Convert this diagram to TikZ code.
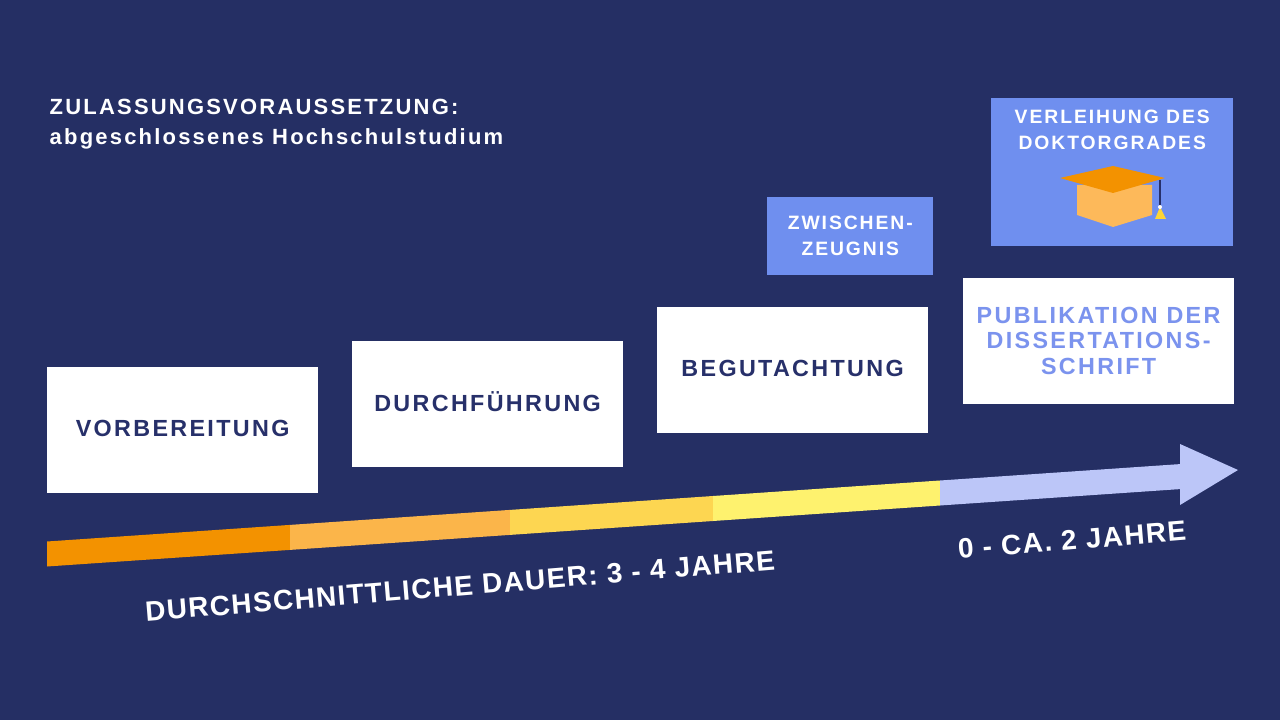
\documentclass[tikz,border=0pt]{standalone}
\usepackage{fontspec}
\setmainfont{Liberation Sans}
\newfontfamily\spaced[LetterSpace=10]{Liberation Sans}
\newfontfamily\narrowsp[LetterSpace=5]{Liberation Sans}
\definecolor{bgnavy}{HTML}{252F64}
\definecolor{boxtext}{HTML}{27306A}
\definecolor{lightblue}{HTML}{6F8FEF}
\definecolor{pubtext}{HTML}{7B93EE}
\definecolor{arrowblue}{HTML}{BCC6F8}
\definecolor{segA}{HTML}{F39200}
\definecolor{segB}{HTML}{FBB54A}
\definecolor{segC}{HTML}{FDD651}
\definecolor{segD}{HTML}{FEF26E}
\definecolor{hatdark}{HTML}{F39200}
\definecolor{hatlight}{HTML}{FDB95A}
\tikzset{
  phase/.style={fill=white,anchor=north west,inner sep=0pt,align=center,
    minimum width=203pt,minimum height=94pt,text=boxtext,
    font=\spaced\bfseries\fontsize{17.5}{19}\selectfont},
  milestone/.style={fill=lightblue,anchor=north west,inner sep=0pt,align=center,
    text=white,font=\spaced\bfseries\fontsize{14.5}{20}\selectfont},
  duration/.style={text=white,font=\narrowsp\bfseries\fontsize{21}{24}\selectfont}
}
\begin{document}
\begin{tikzpicture}[x=0.75pt,y=-0.75pt]
\fill[bgnavy] (0,0) rectangle (1280,720);
\useasboundingbox (0,0) rectangle (1280,720);
% timeline
\fill[segA] (47,541.5) -- (290,524.9) -- (290,549.9) -- (47,566.5) -- cycle;
\fill[segB] (290,524.9) -- (510,509.9) -- (510,534.9) -- (290,549.9) -- cycle;
\fill[segC] (510,509.9) -- (713,496.0) -- (713,521.0) -- (510,534.9) -- cycle;
\fill[segD] (713,496.0) -- (940,480.5) -- (940,505.5) -- (713,521.0) -- cycle;
\fill[arrowblue] (940,480.5) -- (1180,464.1) -- (1180,444) -- (1238,470)
  -- (1180,505) -- (1180,489.1) -- (940,505.5) -- cycle;
% header
\node[anchor=west,text=white,align=left,font=\spaced\bfseries\fontsize{16.5}{22.5}\selectfont] (prereq)
  at (45,124) {ZULASSUNGSVORAUSSETZUNG:\\abgeschlossenes Hochschulstudium};
% phases
\node[phase] (prep) at (47,367) {\raisebox{3pt}{VORBEREITUNG}};
\node[phase] (exec) at (352,341) {\raisebox{3pt}{DURCHFÜHRUNG}};
\node[phase] (review) at (657,307) {\raisebox{3pt}{BEGUTACHTUNG}};
\node[phase,text=pubtext] (publish) at (963,278) {PUBLIKATION DER\\DISSERTATIONS-\\SCHRIFT};
\node[milestone,minimum width=124.5pt,minimum height=58pt] (interim) at (767,197) {ZWISCHEN-\\ZEUGNIS};
\node[milestone,minimum width=181.5pt,minimum height=111pt] (degree) at (991,98) {VERLEIHUNG DES\\DOKTORGRADES\\[44pt]};
% hat
\fill[hatlight] (1077,185) -- (1152,185) -- (1152,215) -- (1113,227) -- (1077,215) -- cycle;
\fill[hatdark] (1060,178) -- (1113,166) -- (1165,178) -- (1113,193) -- cycle;
\draw[boxtext,line width=1pt] (1160,180) -- (1160,208);
\fill[hatlight!60!yellow] (1160,207) -- (1155,219) -- (1166,219) -- cycle;
\fill[white] (1160,207) circle (2);
% durations
\node[duration,rotate=4.7] (total) at (460,586) {DURCHSCHNITTLICHE DAUER: 3 - 4 JAHRE};
\node[duration,rotate=4.7] (extra) at (1072,540) {0 - CA. 2 JAHRE};
\end{tikzpicture}
\end{document}
